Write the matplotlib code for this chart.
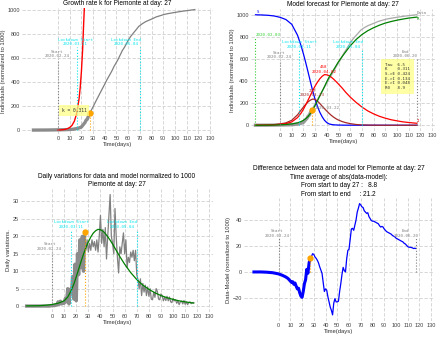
import matplotlib
matplotlib.use('Agg')
import matplotlib.pyplot as plt

# day 0 = 2020-02-24 (start), values normalized to 1000

# SEIR model curves (top right)
model_days = [-21, -15, -10, -5, 0, 5, 10, 15, 18, 20, 22, 24, 26, 28, 30, 32, 34, 36, 38, 40,
              42, 44, 46, 48, 50, 53, 56, 60, 65, 70, 75, 80, 85, 90, 95, 100, 105, 110, 117]
S = [999, 997, 994, 988, 976, 956, 913, 813, 718, 645, 565, 480, 392, 308, 232, 170, 118, 77, 45, 24,
     12, 7, 4, 3, 2, 1.5, 1, 0.8, 0.6, 0.5, 0.4, 0.4, 0.3, 0.3, 0.3, 0.3, 0.3, 0.3, 0.3]
E = [0.7, 1.5, 3, 6, 12, 22, 45, 95, 138, 165, 190, 212, 228, 237, 233, 218, 197, 173, 150, 128,
     107, 88, 72, 58, 47, 34, 24, 15, 7, 3.5, 1.7, 0.8, 0.4, 0.2, 0.1, 0.05, 0, 0, 0]
I = [0.5, 1, 2, 4, 8, 15, 30, 70, 110, 145, 185, 228, 272, 315, 355, 390, 420, 443, 458, 456,
     448, 433, 415, 394, 372, 338, 300, 255, 207, 165, 130, 103, 81, 64, 50, 40, 31, 25, 18]
R = [0, 0.5, 1, 2, 4, 7, 12, 22, 34, 45, 60, 80, 108, 140, 180, 222, 265, 307, 350, 395,
     436, 470, 505, 540, 575, 620, 662, 718, 775, 820, 855, 882, 905, 924, 938, 950, 960, 969, 978]

# cumulative data (known up to day 27, then the rest)
known_days = [-21, -10, 0, 5, 10, 13, 15, 17, 18, 19, 20, 21, 22, 23, 24, 25, 26, 27]
known_vals = [0.5, 1, 2.5, 3.5, 5, 8, 11, 15, 18, 22, 26, 38, 51, 62, 82, 90, 115, 138]
later_days = [27, 30, 33, 35, 37, 40, 42, 44, 46, 48, 51, 53, 55, 57, 60, 62, 64, 67, 69, 72,
              75, 80, 84, 87, 91, 95, 101, 107, 111, 117]
later_vals = [138, 194, 252, 289, 327, 382, 421, 455, 490, 530, 580, 620, 660, 690, 745, 775, 800, 835, 860, 882,
              900, 921, 939, 948, 960, 968, 978, 987, 992, 1000]

# exponential fit with k = 0.311
exp_days = [0, 3, 6, 8, 10, 12, 14, 16, 18, 19, 20, 21, 22, 22.5]
exp_vals = [1, 2.5, 6.5, 12, 22, 40, 75, 140, 260, 355, 485, 660, 900, 1010]

# daily variations, one value per day from -21 to 117
daily_days = list(range(-21, 118))
daily = [0, 0, 0, 0, 0, 0, 0, 0, 0, 0, 0, 0, 0, 0, 0, 0, 0, 0, 0, 0, 0.1,
         0.1, 0.2, 0.1, 0.4, 0.3, 1.2, 0.5, 1.4, 0.6, 1.0, 0.8, 2.2, 1.2, 5.0, 0.6, 4.8, 3.5, 8.5, 2.0, 12.0,
         1.5, 15.0, 9.0, 19.0, 11.0, 20.0, 10.0, 21.2,
         16, 19, 15.5, 18, 16, 19, 17, 18.5, 16, 19, 15.5, 20, 26, 18, 22, 17, 22.5, 13.5, 20, 26,
         32, 20, 18, 15, 28, 20, 14, 9.5, 17, 15, 18, 21, 15, 19, 11, 14, 12.5, 15.5, 14, 16, 13, 16, 9,
         7.5, 5, 7.8, 3, 6.5, 4, 6, 3, 5.5, 2.8, 5, 2, 1.8, 4, 2.5, 5, 4.2, 2, 1.8, 3.5,
         3, 1.5, 2.5, 1.6, 2.8, 1.5, 2.6, 1.2, 1.0, 2.2, 1.5, 1.8, 0.8, 1.5, 0.4, 1.2, 1.4, 0.6, 1.6, 0.5,
         1.2, 0.4, 1.0, 1.2, 0.7, 1.0, 1.0]
daily_model_days = [-21, -15, -10, -5, 0, 5, 10, 13, 16, 18, 20, 22, 24, 26, 28, 30, 32, 34, 36, 38,
                    40, 42, 44, 46, 48, 50, 53, 56, 60, 65, 70, 75, 80, 85, 90, 95, 100, 105, 110, 117]
daily_model = [0.05, 0.08, 0.12, 0.25, 0.45, 0.8, 1.5, 2.6, 4.6, 6.3, 8.4, 10.6, 12.8, 14.9, 16.8, 18.4, 19.8, 20.9, 21.6, 22.0,
               21.9, 21.5, 20.8, 19.9, 18.9, 17.8, 16.0, 14.2, 12.0, 9.6, 7.6, 6.0, 4.8, 3.8, 3.0, 2.4, 1.9, 1.5, 1.2, 0.85]

# data - model
diff_days_before = [-21, -15, -10, -5, 0, 3, 6, 8, 10, 11, 12, 13, 14, 15, 16, 17, 18, 19, 20, 21, 22, 23, 24, 25, 26, 27]
diff_before = [0, 0, -0.2, -0.6, -1.5, -2.5, -3.8, -5, -7, -8, -7.5, -9.5, -8.5, -11, -13, -12.5, -16, -18.5, -19.5, -15,
               -9, -6, 2, -1, 7, 10.6]
diff_days_after = list(range(27, 118))
diff_after = [10.6, 12, 14, 13.5, 11.5, 10.5, 9, 7, 4, 1.5,
              -1, -8, -15, -13, -14, -19, -23, -27, -29.5, -33,
              -24, -20.5, -23, -23, -22.5, -15, -9, -2, 3.5, 1,
              0, 10, 16.5, 17.5, 25, 33, 33.5, 32, 36, 40,
              46, 49, 52.5, 51.5, 50, 49.5, 47, 46, 45, 45.5,
              42.5, 41, 39.5, 39, 39, 38.5, 38, 37.5, 37, 35.5,
              34.5, 35, 34.5, 33, 32, 31, 30.5, 30, 29.5, 29,
              28, 27.5, 27, 26, 25.5, 25, 24.5, 24, 23.5, 23,
              22, 21.5, 20.5, 19.5, 19, 19, 18.8, 18.5, 18, 18.2,
              18]

day_now = 27
params = "Tau  6.5\nK    0.311\nS->E 0.424\nE->I 0.134\nE->I 0.048\nR0   8.9"

plt.rcParams['font.family'] = 'Liberation Sans'
MONO = 'DejaVu Sans Mono'
TS = 4.7   # title size
LS = 4.2   # label size
KS = 4.0   # tick size
AS = 3.0   # annotation size
CYAN = '#00e5ee'
ORANGE = '#ffa500'

fig = plt.figure(figsize=(4.4, 3.38), dpi=100)
ax1 = fig.add_axes([0.050, 0.605, 0.434, 0.371])
ax2 = fig.add_axes([0.570, 0.613, 0.420, 0.360])
ax3 = fig.add_axes([0.047, 0.078, 0.438, 0.363])
ax4 = fig.add_axes([0.555, 0.051, 0.430, 0.362])


def style(ax):
    for s in ax.spines.values():
        s.set_visible(False)
    ax.grid(True, color='#d0d0d0', lw=0.6, ls=(0, (4, 2)))
    ax.set_axisbelow(True)
    ax.tick_params(length=0, labelsize=KS, labelcolor='#404040', pad=1.5)
    ax.set_xticks(range(0, 140, 10))
    ax.set_xlabel('Time(days)', fontsize=LS, labelpad=1, color='#303030')


def vline(ax, x, top, color, bottom=0):
    ax.plot([x, x], [bottom, top], ls=':', lw=0.8, color=color)


def label(ax, x, y, txt, color, ha='center'):
    ax.text(x, y, txt, fontsize=AS, family=MONO, color=color, ha=ha, va='center',
            multialignment='center', linespacing=1.15)


# --- growth rate ---
style(ax1)
ax1.set_xlim(-30.8, 132.5)
ax1.set_ylim(-28, 1012)
ax1.set_yticks(range(0, 1001, 200))
ax1.plot(known_days, known_vals, color='grey', lw=2.4, alpha=0.9)
ax1.plot(later_days, later_vals, color='grey', lw=0.9)
ax1.plot(exp_days, exp_vals, color='red', lw=1.0)
vline(ax1, 0, 590, 'grey')
vline(ax1, 16, 690, CYAN)
vline(ax1, 70, 690, CYAN)
vline(ax1, day_now, known_vals[-1], ORANGE)
label(ax1, -1, 632, 'Start\n2020-02-24', 'grey')
label(ax1, 15, 730, 'Lockdown Start\n2020-03-11', CYAN)
label(ax1, 71, 730, 'Lockdown End\n2020-05-04', CYAN, ha='right')
ax1.text(3, 162, 'k = 0.311', fontsize=3.3, family=MONO, color='#303030', va='center',
         bbox=dict(facecolor='#ffff80', alpha=0.7, edgecolor='none', pad=2))
ax1.plot([day_now], [known_vals[-1]], 'o', color=ORANGE, ms=3.5)
ax1.set_title('Growth rate k for Piemonte at day: 27', fontsize=TS, pad=2)
ax1.set_ylabel('Individuals (normalized to 1000)', fontsize=LS, labelpad=1, color='#303030')

# --- model forecast ---
style(ax2)
ax2.set_xlim(-25, 133)
ax2.set_ylim(-50, 1050)
ax2.set_yticks(range(0, 1001, 200))
ax2.plot(known_days, known_vals, color='grey', lw=2.4, alpha=0.8)
ax2.plot(later_days, later_vals, color='darkgrey', lw=0.9)
ax2.plot(model_days, S, color='blue', lw=0.9)
ax2.plot(model_days, E, color='brown', lw=0.9)
ax2.plot(model_days, I, color='red', lw=0.9)
ax2.plot(model_days, R, color='green', lw=0.9)
vline(ax2, -21, 800, 'limegreen')
vline(ax2, 0, 590, 'grey')
vline(ax2, 16, 690, CYAN)
vline(ax2, 70, 690, CYAN)
vline(ax2, 117, 600, 'grey')
vline(ax2, day_now, known_vals[-1], ORANGE)
ax2.text(-21, 819, '2020-02-03', fontsize=AS, family=MONO, color='limegreen', ha='left', va='center')
label(ax2, -1, 637, 'Start\n2020-02-24', 'grey')
label(ax2, 16.5, 732, 'Lockdown Start\n2020-03-11', CYAN)
label(ax2, 71, 732, 'Lockdown End\n2020-05-04', CYAN, ha='right')
label(ax2, 118, 643, 'End\n2020-06-20', 'grey', ha='right')
label(ax2, 37.5, 506, '458\n2020-04-02', 'red')
label(ax2, 27.5, 293, '237\n2020-03-23', 'brown')
ax2.text(30, 159, '2020-03-22', fontsize=AS, family=MONO, color='grey', ha='left', va='center')
ax2.text(-20, 1005, 'S', fontsize=AS, family=MONO, color='blue', ha='left', va='bottom')
ax2.text(117, 1000, 'Data', fontsize=AS, family=MONO, color='grey', ha='left', va='bottom')
ax2.text(117, 978, 'R', fontsize=AS, family=MONO, color='green', ha='left', va='top')
ax2.text(117, 18, 'I', fontsize=AS, family=MONO, color='red', ha='left', va='bottom')
ax2.text(89.5, 565, params, fontsize=AS, family=MONO, color='#303030', va='top', linespacing=1.2,
         bbox=dict(facecolor='#ffff80', alpha=0.7, edgecolor='none', pad=3))
ax2.plot([day_now], [known_vals[-1]], 'o', color=ORANGE, ms=3.5)
ax2.set_title('Model forecast for Piemonte at day: 27', fontsize=TS, pad=2)
ax2.set_ylabel('Individuals (normalized to 1000)', fontsize=LS, labelpad=1, color='#303030')

# --- daily variations ---
style(ax3)
ax3.set_xlim(-25.9, 133.3)
ax3.set_ylim(-1.6, 33.6)
ax3.set_yticks(range(0, 31, 5))
n = daily_days.index(day_now)
ax3.plot(daily_days[:n + 1], daily[:n + 1], color='grey', lw=2.4, alpha=0.9)
ax3.plot(daily_days[n:], daily[n:], color='grey', lw=0.9)
ax3.plot(daily_model_days, daily_model, color='green', lw=0.9)
vline(ax3, 0, 15.5, 'grey')
vline(ax3, 16, 21.8, CYAN)
vline(ax3, 70, 21.8, CYAN)
vline(ax3, day_now, daily[n], ORANGE)
label(ax3, -2, 17.1, 'Start\n2020-02-24', 'grey')
label(ax3, 16, 23.4, 'Lockdown Start\n2020-03-11', CYAN)
label(ax3, 70.5, 23.4, 'Lockdown End\n2020-05-04', CYAN, ha='right')
ax3.plot([day_now], [daily[n]], 'o', color=ORANGE, ms=3.5)
ax3.set_title('Daily variations for data and model normalized to 1000\nPiemonte at day: 27',
              fontsize=TS, pad=2, linespacing=1.25)
ax3.set_ylabel('Daily variations.', fontsize=LS, labelpad=1, color='#303030')

# --- difference ---
style(ax4)
ax4.set_xlim(-29.3, 131.9)
ax4.set_ylim(-37.5, 56.5)
ax4.set_yticks([-20, 0, 20, 40])
ax4.plot(diff_days_before, diff_before, color='blue', lw=2.2)
ax4.plot(diff_days_after, diff_after, color='blue', lw=0.9)
vline(ax4, 0, 26, 'grey')
vline(ax4, 117, 26, 'grey')
vline(ax4, day_now, diff_after[0], ORANGE)
label(ax4, -1, 29.6, 'Start\n2020-02-24', 'grey')
label(ax4, 119, 29.6, 'End\n2020-06-20', 'grey', ha='right')
ax4.plot([day_now], [diff_after[0]], 'o', color=ORANGE, ms=3.5)
ax4.set_title('Difference between data and model for Piemonte at day: 27\n'
              'Time average of abs(data-model):\n'
              'From start to day 27 :   8.8\n'
              'From start to end     : 21.2', fontsize=TS, pad=2, linespacing=1.3)
ax4.set_ylabel('Data-Model (normalized to 1000)', fontsize=LS, labelpad=1, color='#303030')

fig.savefig('out.png', dpi=100)
